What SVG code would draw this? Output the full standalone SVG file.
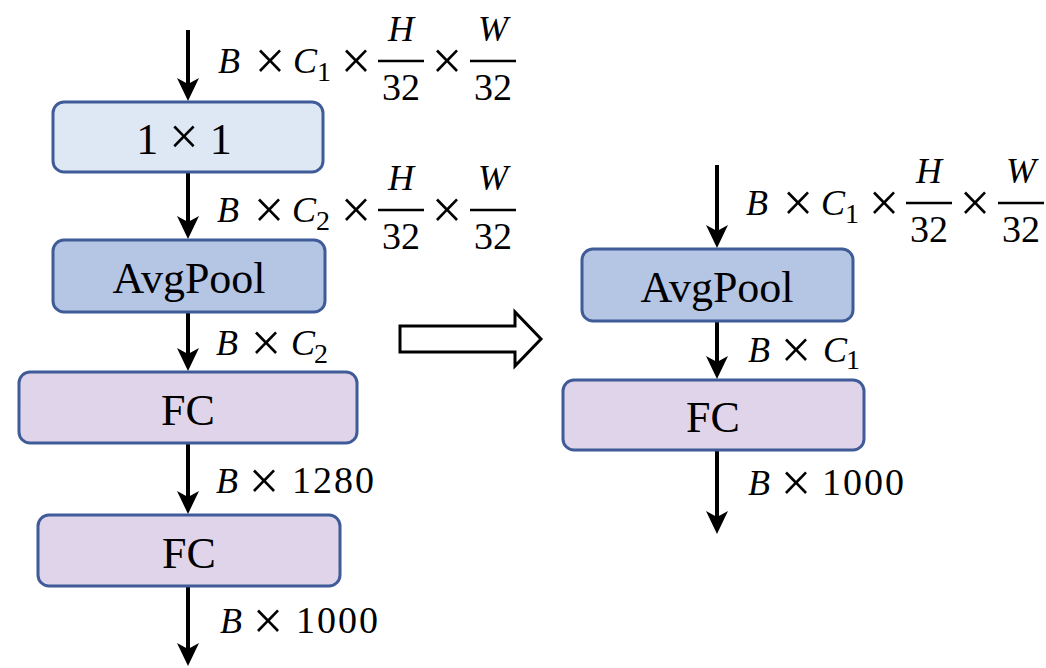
<svg xmlns="http://www.w3.org/2000/svg" width="1046" height="668" viewBox="0 0 1046 668">
<defs>
<marker id="ah" markerWidth="26" markerHeight="24" viewBox="-24 -12 26 24" refX="-12" refY="0" orient="auto" markerUnits="userSpaceOnUse">
<path d="M0,0 L-23,-11 L-17,0 L-23,11 Z" fill="#000"/>
</marker>
<style>
.box{stroke:#3f5b98;stroke-width:3}
.b1{fill:#dee8f4}.b2{fill:#b5c5e4}.b3{fill:#e0d4ea}
.bt{font-family:"Liberation Serif",serif;font-size:44px;text-anchor:middle;fill:#000}
.v{font-family:"Liberation Serif",serif;font-style:italic;font-size:36px;fill:#000}
.d{font-family:"Liberation Serif",serif;font-size:38px;fill:#000;letter-spacing:2px}
.s{font-family:"Liberation Serif",serif;font-size:28px;fill:#000}
.x{font-family:"Liberation Serif",serif;font-size:54px;fill:#000;text-anchor:middle}
.m{text-anchor:middle;letter-spacing:0}
.fl{stroke:#000;stroke-width:2.5}
.c{stroke:#000;stroke-width:4;fill:none}
</style>
</defs>
<g id="connectors">
<line class="c" x1="188" y1="30" x2="188" y2="89" marker-end="url(#ah)"/>
<line class="c" x1="188" y1="172" x2="188" y2="227" marker-end="url(#ah)"/>
<line class="c" x1="188" y1="312" x2="188" y2="359" marker-end="url(#ah)"/>
<line class="c" x1="188" y1="443" x2="188" y2="502" marker-end="url(#ah)"/>
<line class="c" x1="188" y1="586" x2="188" y2="654" marker-end="url(#ah)"/>
<line class="c" x1="717" y1="165" x2="717" y2="236" marker-end="url(#ah)"/>
<line class="c" x1="717" y1="321" x2="717" y2="367" marker-end="url(#ah)"/>
<line class="c" x1="717" y1="450" x2="717" y2="522" marker-end="url(#ah)"/>
<polygon points="400,326 515,326 515,312 541,339 515,366 515,352 400,352" fill="#fff" stroke="#000" stroke-width="3"/>
</g>
<g id="node-conv1x1">
<rect class="box b1" x="53" y="102" width="270" height="70" rx="11"/>
<text class="bt" x="184" y="154" font-size="46">1 <tspan font-size="52">×</tspan> 1</text>
</g>
<g id="node-avgpool-left">
<rect class="box b2" x="53" y="240" width="272" height="72" rx="11"/>
<text class="bt" x="189" y="293">AvgPool</text>
</g>
<g id="node-fc1-left">
<rect class="box b3" x="19" y="372" width="338" height="71" rx="11"/>
<text class="bt" x="188" y="425">FC</text>
</g>
<g id="node-fc2-left">
<rect class="box b3" x="38" y="515" width="302" height="71" rx="11"/>
<text class="bt" x="189" y="568">FC</text>
</g>
<g id="node-avgpool-right">
<rect class="box b2" x="582" y="249" width="271" height="72" rx="11"/>
<text class="bt" x="717" y="302">AvgPool</text>
</g>
<g id="node-fc-right">
<rect class="box b3" x="563" y="380" width="301" height="70" rx="11"/>
<text class="bt" x="713" y="432">FC</text>
</g>
<g id="labels">
<g id="lab1">
<text class="v" x="218" y="73">B</text><text class="x" x="270" y="79">×</text>
<text class="v" x="293" y="73">C</text><text class="s" x="317" y="81">1</text>
<text class="x" x="356" y="79">×</text>
<line class="fl" x1="378" y1="61" x2="424" y2="61"/>
<text class="v m" x="401" y="41">H</text><text class="d m" x="401" y="100">32</text>
<text class="x" x="447" y="79">×</text>
<line class="fl" x1="470" y1="61" x2="516" y2="61"/>
<text class="v m" x="493" y="41">W</text><text class="d m" x="493" y="100">32</text>
</g>
<g id="lab2" transform="translate(0,149)">
<text class="v" x="217" y="73">B</text><text class="x" x="269" y="79">×</text>
<text class="v" x="292" y="73">C</text><text class="s" x="316" y="81">2</text>
<text class="x" x="356" y="79">×</text>
<line class="fl" x1="378" y1="61" x2="424" y2="61"/>
<text class="v m" x="401" y="41">H</text><text class="d m" x="401" y="100">32</text>
<text class="x" x="447" y="79">×</text>
<line class="fl" x1="470" y1="61" x2="516" y2="61"/>
<text class="v m" x="493" y="41">W</text><text class="d m" x="493" y="100">32</text>
</g>
<g id="lab3">
<text class="v" x="216" y="355">B</text><text class="x" x="266" y="361">×</text>
<text class="v" x="291" y="355">C</text><text class="s" x="314" y="363">2</text>
</g>
<text class="v" x="216" y="493">B</text><text class="x" x="264" y="499">×</text><text class="d" x="292" y="493">1280</text>
<text class="v" x="220" y="633">B</text><text class="x" x="268" y="639">×</text><text class="d" x="296" y="633">1000</text>
<g id="lab-r1" transform="translate(528,142)">
<text class="v" x="218" y="73">B</text><text class="x" x="270" y="79">×</text>
<text class="v" x="293" y="73">C</text><text class="s" x="317" y="81">1</text>
<text class="x" x="356" y="79">×</text>
<line class="fl" x1="378" y1="61" x2="424" y2="61"/>
<text class="v m" x="401" y="41">H</text><text class="d m" x="401" y="100">32</text>
<text class="x" x="447" y="79">×</text>
<line class="fl" x1="470" y1="61" x2="516" y2="61"/>
<text class="v m" x="493" y="41">W</text><text class="d m" x="493" y="100">32</text>
</g>
<text class="v" x="748" y="362">B</text><text class="x" x="796" y="368">×</text>
<text class="v" x="823" y="362">C</text><text class="s" x="846" y="369">1</text>
<text class="v" x="748" y="495">B</text><text class="x" x="796" y="501">×</text><text class="d" x="822" y="495">1000</text>
</g>
</svg>
